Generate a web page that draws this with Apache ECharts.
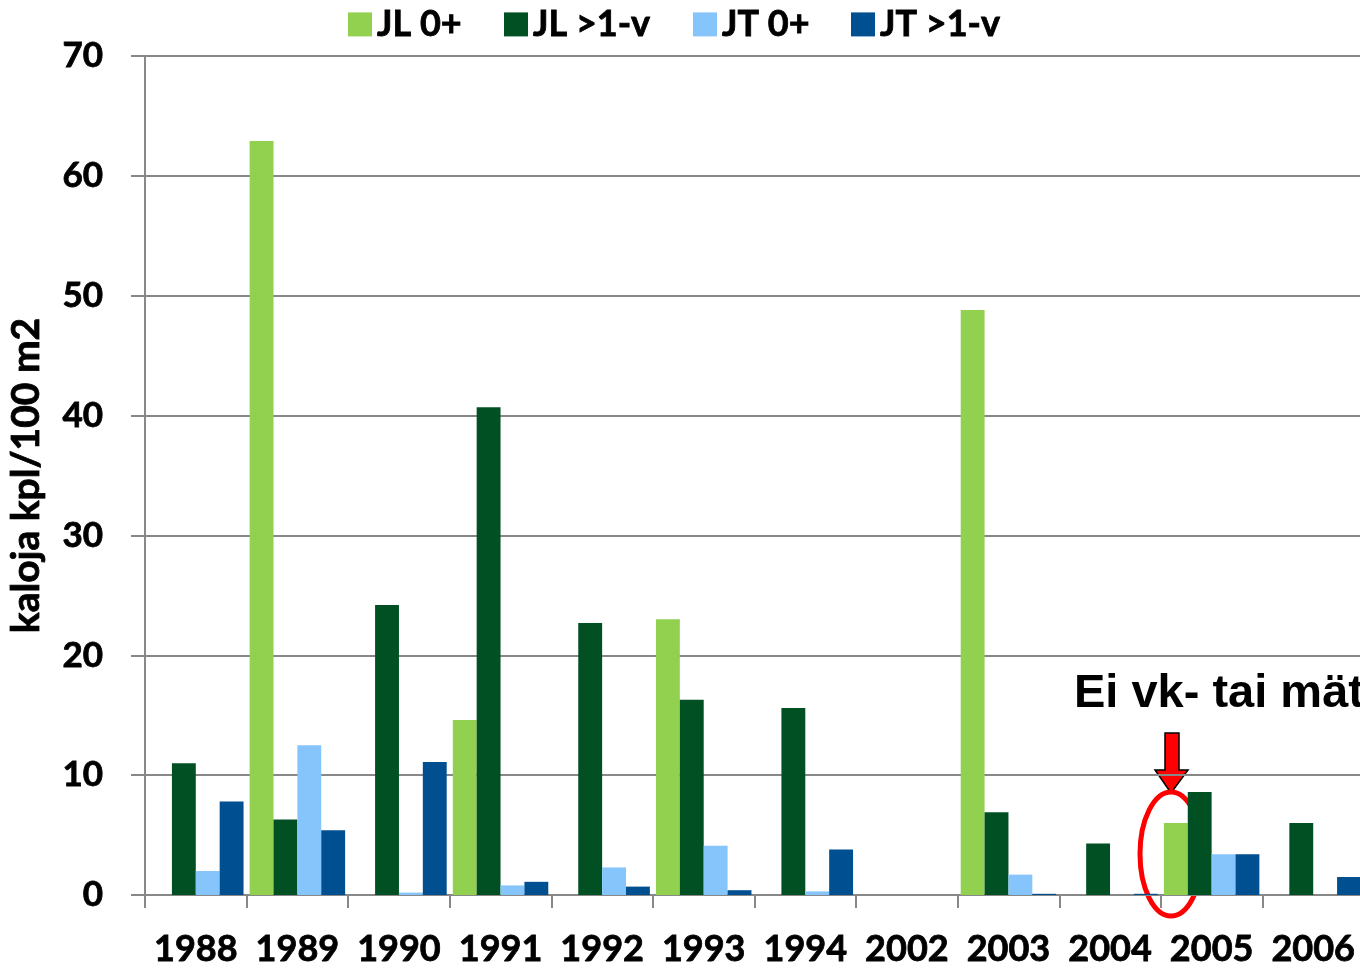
<!DOCTYPE html>
<html><head><meta charset="utf-8">
<script src="https://cdn.jsdelivr.net/npm/echarts@6/dist/echarts.min.js"></script>
<style>html,body{margin:0;padding:0;background:#fff;overflow:hidden;width:1360px;height:970px}#c{width:1364px;height:970px}</style>
</head><body><div id="c"></div>
<script>
const categories = ['1988','1989','1990','1991','1992','1993','1994','2002','2003','2004','2005','2006'];
const seriesNames = ['JL 0+','JL >1-v','JT 0+','JT >1-v'];
const jl0 = [0, 62.9, 0, 14.6, 0, 23.0, 0, 0, 48.8, 0, 6.0, 0];
const jl1 = [11.0, 6.3, 24.2, 40.7, 22.7, 16.3, 15.6, 0, 6.9, 4.3, 8.6, 6.0];
const jt0 = [2.0, 12.5, 0.2, 0.8, 2.3, 4.1, 0.3, 0, 1.7, 0, 3.4, 0];
const jt1 = [7.8, 5.4, 11.1, 1.1, 0.7, 0.4, 3.8, 0, 0.1, 0.1, 3.4, 1.5];
const yTicks = [0,10,20,30,40,50,60,70];
const colors = ['#92D050','#005023','#86C5FC','#004F91'];
const annotationText = 'Ei vk- tai mät';

const chart = echarts.init(document.getElementById('c'));
const font = 'Lato';
const bold = {fontFamily:font, fontWeight:'bold', color:'#000', textBorderColor:'#000', textBorderWidth:0.8};
const legendLefts = [343, 499, 688, 846];
const legends = seriesNames.map((n,i)=>({
  data:[n], left: legendLefts[i], top: 1, itemWidth: 24, itemHeight: 24, itemGap: 10,
  icon: 'rect', textStyle:Object.assign({fontSize:36}, bold), selectedMode:false
}));
const vals = [jl0, jl1, jt0, jt1];
chart.setOption({
  animation:false,
  legend: legends,
  grid:{left:145, top:56, bottom:75, right:0, containLabel:false, outerBoundsMode:'none'},
  xAxis:{type:'category', data:categories,
    axisLine:{lineStyle:{color:'#888', width:2}},
    axisTick:{show:true, length:13, lineStyle:{color:'#888', width:2}},
    axisLabel:Object.assign({fontSize:36, margin:36, interval:0}, bold)
  },
  yAxis:{type:'value', min:0, max:70, interval:10,
    name:'kaloja kpl/100 m2', nameLocation:'middle', nameGap:99, nameRotate:90,
    nameTextStyle:Object.assign({fontSize:39}, bold),
    axisLine:{show:true, lineStyle:{color:'#888', width:2}},
    axisTick:{show:true, length:14, lineStyle:{color:'#888', width:2}},
    splitLine:{lineStyle:{color:'#888', width:2}},
    axisLabel:Object.assign({fontSize:35, margin:42,
      formatter:v=> yTicks.includes(v)? String(v):''}, bold)
  },
  series: seriesNames.map((n,i)=>({
    name:n, type:'bar', data:vals[i], barGap:0, barCategoryGap:'6%',
    itemStyle:{color:colors[i]}
  })),
  graphic:[
    {type:'text', left:1074, top:671, style:{text:annotationText, font:'bold 47px "Liberation Sans"', fill:'#000'}},
    {type:'polygon', shape:{points:[[1165,733],[1179,733],[1179,770],[1188,770],[1171,793],[1155,770],[1165,770]]},
      style:{fill:'#FF0000', stroke:'#000', lineWidth:1.5}},
    {type:'ellipse', shape:{cx:1171, cy:854, rx:31, ry:62}, style:{fill:'none', stroke:'#FF0000', lineWidth:5}}
  ]
});
</script></body></html>
